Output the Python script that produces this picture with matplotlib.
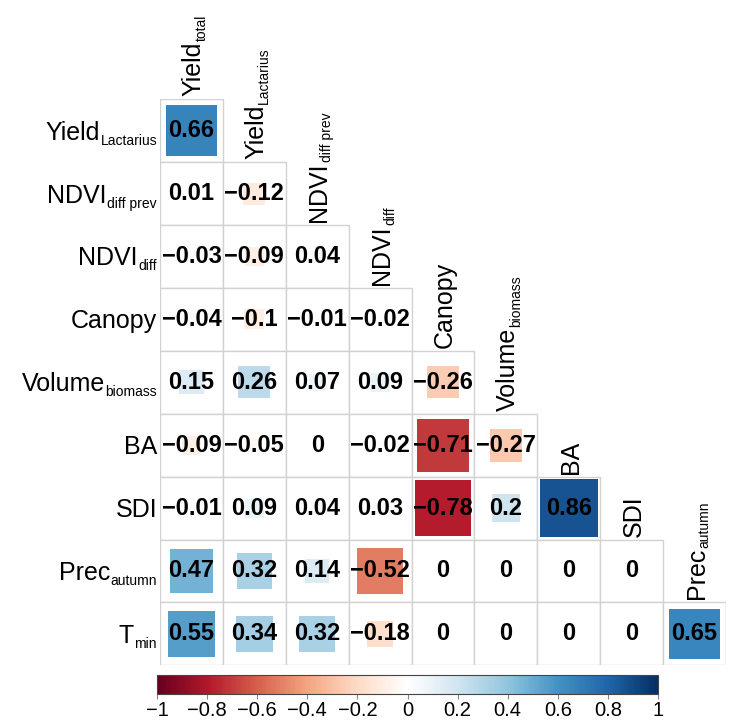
import numpy as np
import matplotlib
matplotlib.use("Agg")
import matplotlib.pyplot as plt
from matplotlib.colors import LinearSegmentedColormap, Normalize
from matplotlib.patches import Rectangle
from matplotlib.transforms import offset_copy
from matplotlib.colorbar import ColorbarBase

plt.rcParams['font.family'] = ['Liberation Sans', 'DejaVu Sans']

# ---------------- data ----------------
row_main = ["Yield", "NDVI", "NDVI", "Canopy", "Volume", "BA", "SDI", "Prec", "T"]
row_sub = ["Lactarius", "diff prev", "diff", "", "biomass", "", "", "autumn", "min"]
col_main = ["Yield", "Yield", "NDVI", "NDVI", "Canopy", "Volume", "BA", "SDI", "Prec"]
col_sub = ["total", "Lactarius", "diff prev", "diff", "", "biomass", "", "", "autumn"]

r_yield_lact = [0.66]
r_ndvi_prev = [0.01, -0.12]
r_ndvi_diff = [-0.03, -0.09, 0.04]
r_canopy = [-0.04, -0.1, -0.01, -0.02]
r_volume = [0.15, 0.26, 0.07, 0.09, -0.26]
r_ba = [-0.09, -0.05, 0, -0.02, -0.71, -0.27]
r_sdi = [-0.01, 0.09, 0.04, 0.03, -0.78, 0.2, 0.86]
r_prec = [0.47, 0.32, 0.14, -0.52, 0, 0, 0, 0]
r_tmin = [0.55, 0.34, 0.32, -0.18, 0, 0, 0, 0, 0.65]
rows_vals = [r_yield_lact, r_ndvi_prev, r_ndvi_diff, r_canopy, r_volume,
             r_ba, r_sdi, r_prec, r_tmin]

cbar_ticks = [-1, -0.8, -0.6, -0.4, -0.2, 0, 0.2, 0.4, 0.6, 0.8, 1]

# ---------------- style ----------------
palette = ["#67001F", "#B2182B", "#D6604D", "#F4A582", "#FDDBC7", "#FFFFFF",
           "#D1E5F0", "#92C5DE", "#4393C3", "#2166AC", "#053061"]
cmap = LinearSegmentedColormap.from_list("corrRdBu", palette, N=200)
norm = Normalize(-1, 1)

W, H = 731, 724
DPI = 100
fig = plt.figure(figsize=(W / DPI, H / DPI), dpi=DPI)
fig.patch.set_facecolor("white")

n = 9
gx0, gy0, gsize = 160, 99.3, 566.0  # grid in pixels (top-left)
ax = fig.add_axes([gx0 / W, 1 - (gy0 + gsize) / H, gsize / W, gsize / H])
ax.set_xlim(0, n)
ax.set_ylim(n, 0)
ax.axis("off")

def fmt(v):
    s = f"{v:g}"
    return s.replace("-", "\u2212")

grid_col = "#d2d2d2"
for i, vals in enumerate(rows_vals):
    for j, v in enumerate(vals):
        ax.add_patch(Rectangle((j, i), 1, 1, facecolor="white",
                               edgecolor=grid_col, lw=1.0, zorder=1))
for i, vals in enumerate(rows_vals):
    for j, v in enumerate(vals):
        s = np.sqrt(abs(v))
        if s > 0:
            ax.add_patch(Rectangle((j + 0.5 - s / 2, i + 0.5 - s / 2), s, s,
                                   facecolor=cmap(norm(v)), edgecolor="none",
                                   zorder=2))
        ax.text(j + 0.5, i + 0.5, fmt(v), ha="center", va="center",
                fontsize=17, fontweight="bold", color="black", zorder=3)

renderer = fig.canvas.get_renderer()
MAIN_FS = 18
SUB_FS = 10
cap_px = 0.716 * MAIN_FS * DPI / 72.0
half_cap = cap_px / 2
sub_drop = 5.0

# row labels
for i in range(n):
    gap = 3.0
    base_dy = -half_cap
    x_off = -gap
    if row_sub[i]:
        tr = offset_copy(ax.transData, fig=fig, x=x_off, y=base_dy - sub_drop, units="dots")
        st = ax.text(0, i + 0.5, row_sub[i], fontsize=SUB_FS, ha="right",
                     va="baseline", transform=tr, clip_on=False)
        w = st.get_window_extent(renderer).width
        x_off -= w + 0.5
    tr = offset_copy(ax.transData, fig=fig, x=x_off, y=base_dy, units="dots")
    ax.text(0, i + 0.5, row_main[i], fontsize=MAIN_FS, ha="right",
            va="baseline", transform=tr, clip_on=False)

# column labels (on diagonal)
for j in range(n):
    gap = 3.0
    tr = offset_copy(ax.transData, fig=fig, x=half_cap, y=gap, units="dots")
    mt = ax.text(j + 0.5, j, col_main[j], fontsize=MAIN_FS, rotation=90,
                 rotation_mode="anchor", ha="left", va="baseline",
                 transform=tr, clip_on=False)
    if col_sub[j]:
        h = mt.get_window_extent(renderer).height
        tr2 = offset_copy(ax.transData, fig=fig, x=half_cap + sub_drop,
                          y=gap + h + 0.5, units="dots")
        ax.text(j + 0.5, j, col_sub[j], fontsize=SUB_FS, rotation=90,
                rotation_mode="anchor", ha="left", va="baseline",
                transform=tr2, clip_on=False)

# colorbar
cx0, cy0, cw, ch = 157, 675, 501, 19.3
cax = fig.add_axes([cx0 / W, 1 - (cy0 + ch) / H, cw / W, ch / H])
cb = ColorbarBase(cax, cmap=cmap, norm=norm, orientation="horizontal",
                  ticks=cbar_ticks)
cb.outline.set_edgecolor("#444444")
cb.outline.set_linewidth(0.8)
cax.set_xticklabels([fmt(t) for t in cbar_ticks])
cax.tick_params(axis="x", length=3.5, width=0.8, color="#888888",
                labelsize=14.5, pad=1)

fig.savefig("out.png", dpi=DPI, facecolor="white")
